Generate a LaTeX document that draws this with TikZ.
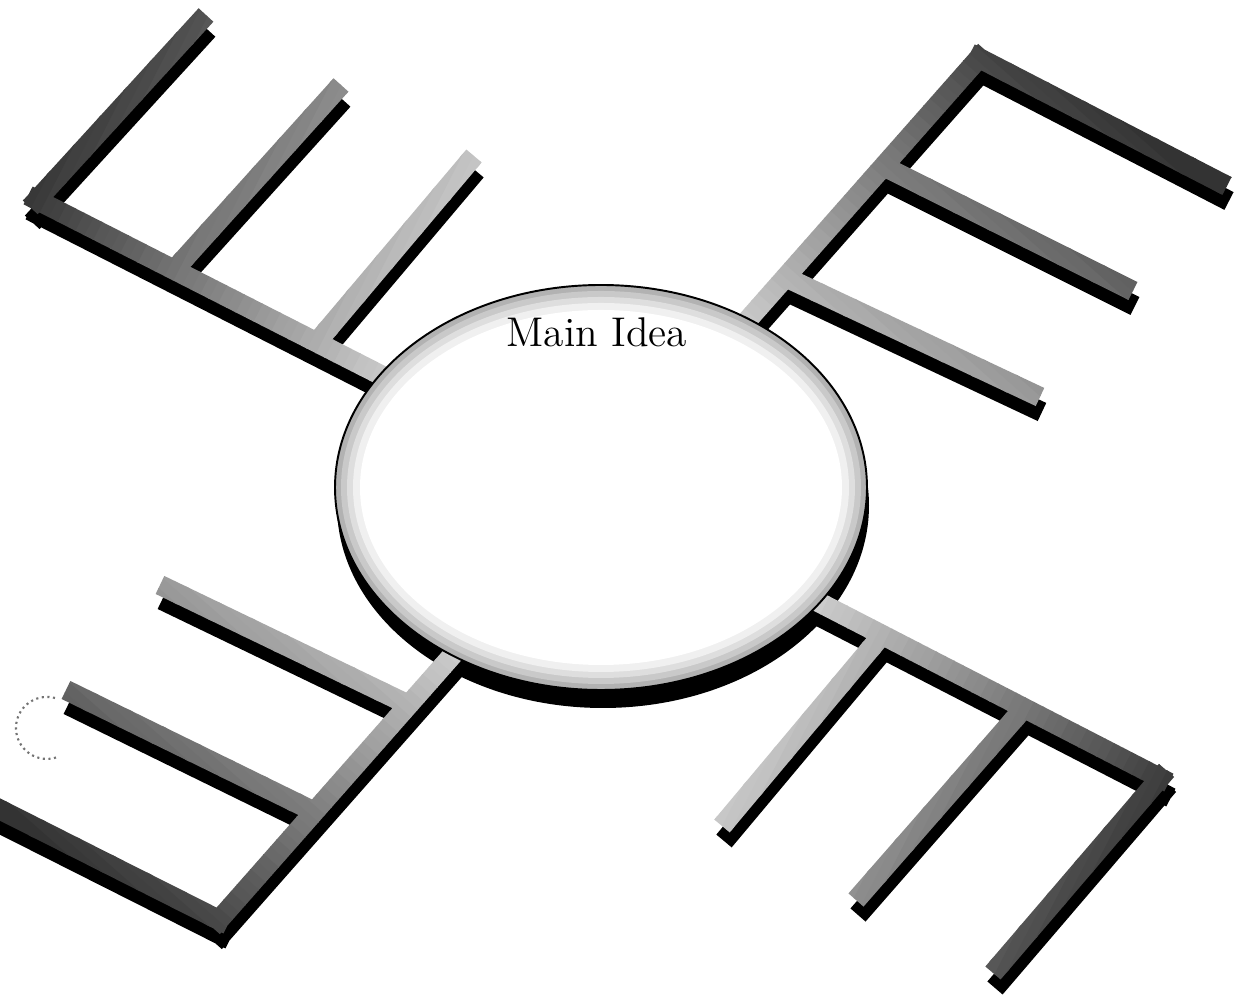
\documentclass[tikz,border=0pt]{standalone}
\usetikzlibrary{calc}
% bar rectangle: #1 name, #2 from, #3 to, #4 extension at from, #5 extension at to
\newcommand\mkbar[5]{%
  \path ($(#2)!-#4!(#3)$) coordinate (#1a) ($(#3)!-#5!(#2)$) coordinate (#1b);
  \path ($(#1a)!1mm!90:(#1b)$) coordinate (#1p)
        ($(#1b)!1mm!-90:(#1a)$) coordinate (#1q)
        ($(#1b)!1mm!90:(#1a)$) coordinate (#1r)
        ($(#1a)!1mm!-90:(#1b)$) coordinate (#1s);
}
\newcommand\rp[1]{(#1p) -- (#1q) -- (#1r) -- (#1s) -- cycle}
% gradient bands along an arm: #1 start point, #2 angle
\newcommand\armshade[2]{%
  \begin{scope}[shift={(#1)}, rotate=#2]
    \foreach \i in {-6,...,52}{
      \pgfmathtruncatemacro\g{min(80,max(20,22+58*\i/40))}
      \fill[black!\g] (\i*10,-800) rectangle (\i*10+11,800);
    }
  \end{scope}}
\begin{document}
\begin{tikzpicture}[x=0.01cm,y=-0.01cm,
  shadowstyle/.style={fill=black, transform canvas={shift={(2,15)}}},
  rimline/.style={draw=black, line width=0.55pt}]
\useasboundingbox (0,0) rectangle (1241,1004);
\fill[white] (0,0) rectangle (1241,1004);

% ---------- key points ----------
\coordinate (C) at (601,487.5);
% top-left arm
\coordinate (tl0) at (420,395);  \coordinate (tlC) at (37,200);
\coordinate (tl1e) at (206,15);
\coordinate (tl2s) at (175,269); \coordinate (tl2e) at (341,85);
\coordinate (tl3s) at (317,342); \coordinate (tl3e) at (474,156);
% top-right arm
\coordinate (tr0) at (708,365);  \coordinate (trC) at (979,58);
\coordinate (tr1e) at (1227,186);
\coordinate (tr2s) at (883,166); \coordinate (tr2e) at (1133,291);
\coordinate (tr3s) at (785,277); \coordinate (tr3e) at (1040,397);
% bottom-left arm
\coordinate (bl0) at (480,624);  \coordinate (blC) at (219,920);
\coordinate (bl1e) at (-15,802);
\coordinate (bl2s) at (315,812); \coordinate (bl2e) at (66,690);
\coordinate (bl3s) at (409,705); \coordinate (bl3e) at (160,585);
% bottom-right arm
\coordinate (br0) at (797,591);  \coordinate (brC) at (1160,778);
\coordinate (br1e) at (993,973);
\coordinate (br2s) at (1024,708); \coordinate (br2e) at (856,900);
\coordinate (br3s) at (882,635); \coordinate (br3e) at (722,826);

\mkbar{tlT}{tl0}{tlC}{0mm}{1mm}
\mkbar{tlA}{tlC}{tl1e}{1mm}{0mm}
\mkbar{tlB}{tl2s}{tl2e}{0mm}{0mm}
\mkbar{tlD}{tl3s}{tl3e}{0mm}{0mm}

\mkbar{trT}{tr0}{trC}{0mm}{1mm}
\mkbar{trA}{trC}{tr1e}{1mm}{0mm}
\mkbar{trB}{tr2s}{tr2e}{0mm}{0mm}
\mkbar{trD}{tr3s}{tr3e}{0mm}{0mm}

\mkbar{blT}{bl0}{blC}{0mm}{1mm}
\mkbar{blA}{blC}{bl1e}{1mm}{0mm}
\mkbar{blB}{bl2s}{bl2e}{0mm}{0mm}
\mkbar{blD}{bl3s}{bl3e}{0mm}{0mm}

\mkbar{brT}{br0}{brC}{0mm}{1mm}
\mkbar{brA}{brC}{br1e}{1mm}{0mm}
\mkbar{brB}{br2s}{br2e}{0mm}{0mm}
\mkbar{brD}{br3s}{br3e}{0mm}{0mm}

% ---------- shadows ----------
\path[shadowstyle] \rp{tlT}\rp{tlA}\rp{tlB}\rp{tlD};
\path[shadowstyle] \rp{trT}\rp{trA}\rp{trB}\rp{trD};
\path[shadowstyle] \rp{blT}\rp{blA}\rp{blB}\rp{blD};
\path[shadowstyle] \rp{brT}\rp{brA}\rp{brB}\rp{brD};
\fill[black] (603,505.5) ellipse [x radius=266, y radius=202.5];

% ---------- gray bars with gradient ----------
\begin{scope}
  \clip \rp{tlT}\rp{tlA}\rp{tlB}\rp{tlD};
  \armshade{385,372}{152.9}
\end{scope}
\begin{scope}
  \clip \rp{trT}\rp{trA}\rp{trB}\rp{trD};
  \armshade{745,322}{48.5}
\end{scope}
\begin{scope}
  \clip \rp{blT}\rp{blA}\rp{blB}\rp{blD};
  \armshade{452,660}{228.6}
\end{scope}
\begin{scope}
  \clip \rp{brT}\rp{brA}\rp{brB}\rp{brD};
  \armshade{825,605}{-27.3}
\end{scope}

% ---------- central ellipse ----------
\fill[black!30] (C) ellipse [x radius=266, y radius=202.5];
\fill[black!21] (C) ellipse [x radius=260, y radius=196.5];
\fill[black!13] (C) ellipse [x radius=254, y radius=190.5];
\fill[black!6]  (C) ellipse [x radius=248, y radius=184.5];
\fill[white]    (C) ellipse [x radius=241, y radius=177.5];
\draw[rimline]  (C) ellipse [x radius=266, y radius=202.5];

\node[font=\fontsize{11.8}{14}\selectfont, inner sep=0pt] (main) at (597,332) {Main Idea};

% faint dotted circle at the left
\coordinate (dotc) at (47,728);
\draw[black!55, line width=0.6pt, densely dotted]
  ($(dotc)+(8,-30)$) arc[start angle=-75, end angle=-290, radius=31];
\end{tikzpicture}
\end{document}
